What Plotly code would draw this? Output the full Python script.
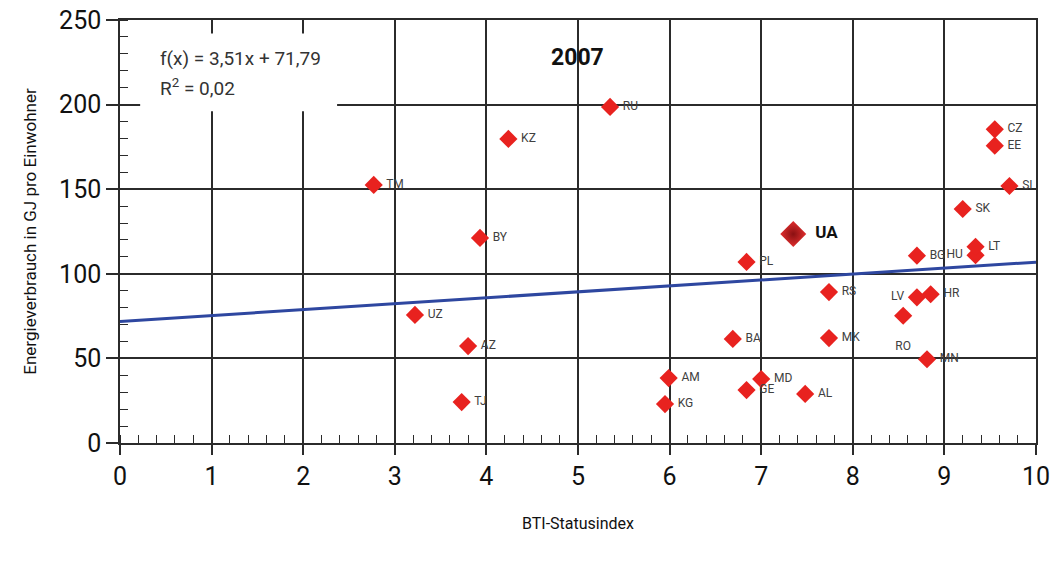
import plotly.graph_objects as go

# BTI status index vs. energy consumption per capita, 2007
countries = ["RU", "KZ", "TM", "BY", "UZ", "AZ", "TJ", "PL", "RS", "BA", "MK",
             "AM", "KG", "GE", "MD", "AL", "BG", "HU", "LT", "CZ", "EE", "SI",
             "SK", "LV", "HR", "RO", "MN"]
bti_index = [5.35, 4.24, 2.77, 3.93, 3.22, 3.80, 3.73, 6.84, 7.74, 6.69, 7.74,
             5.99, 5.95, 6.84, 7.00, 7.48, 8.70, 9.34, 9.34, 9.55, 9.55, 9.71,
             9.20, 8.70, 8.85, 8.55, 8.81]
energy_gj = [198.6, 179.7, 152.5, 121.2, 75.7, 57.3, 24.2, 107.0, 89.2, 61.5, 62.0,
             38.4, 23.0, 31.3, 37.8, 29.0, 110.7, 111.0, 116.0, 185.4, 175.7, 151.9,
             138.3, 86.1, 87.9, 75.2, 49.5]
label_pos = ["middle right"] * len(countries)
label_pos[countries.index("LV")] = "middle left"
label_pos[countries.index("HU")] = "middle left"
label_pos[countries.index("RO")] = "bottom center"
labels = []
for name, pos in zip(countries, label_pos):
    if pos == "middle right":
        labels.append(" " + name)
    elif pos == "middle left":
        labels.append(name + " ")
    else:
        labels.append("<br>" + name)

ua_name = ["UA"]
ua_index = [7.35]
ua_energy = [123.5]

# Linear fit f(x) = 3.51x + 71.79
slope, intercept = 3.51, 71.79
fit_x = [0, 10]
fit_y = [slope * v + intercept for v in fit_x]

font_family = "Roboto, sans-serif"
ink = "#2b2b2b"

fig = go.Figure()

fig.add_trace(go.Scatter(
    x=fit_x, y=fit_y, mode="lines",
    line=dict(color="#2e47a0", width=3),
    hoverinfo="skip", showlegend=False,
))

fig.add_trace(go.Scatter(
    x=bti_index, y=energy_gj, mode="markers+text",
    text=labels, textposition=label_pos,
    textfont=dict(family=font_family, size=12, color="#404040"),
    marker=dict(symbol="diamond", size=14, color="#e8221f", line=dict(width=0)),
    cliponaxis=False, showlegend=False,
))

fig.add_trace(go.Scatter(
    x=ua_index, y=ua_energy, mode="markers+text",
    text=["  <b>" + ua_name[0] + "</b>"], textposition="middle right",
    textfont=dict(family=font_family, size=17, color="#111111"),
    marker=dict(symbol="diamond", size=20, color="#e02e2e",
                gradient=dict(type="radial", color="#8a1012"),
                line=dict(width=0)),
    cliponaxis=False, showlegend=False,
))

# white panel behind the regression equation
fig.add_shape(type="rect", xref="x", yref="y", x0=0.22, x1=2.37, y0=196, y1=242,
              fillcolor="white", line=dict(width=0), layer="between")

eq_font = dict(family=font_family, size=19, color="#333333")
fig.add_annotation(
    xref="x", yref="y", x=0.41, y=227, xanchor="left", yanchor="middle",
    text="f(x) = 3,51x + 71,79", showarrow=False, font=eq_font,
)
fig.add_annotation(
    xref="x", yref="y", x=0.41, y=210, xanchor="left", yanchor="middle",
    text="R<sup>2</sup> = 0,02", showarrow=False, font=eq_font,
)
fig.add_annotation(
    xref="x", yref="y", x=4.99, y=228, text="<b>2007</b>", showarrow=False,
    font=dict(family=font_family, size=23, color="#111111"),
)

axis_common = dict(
    showline=True, linecolor=ink, linewidth=1.5, mirror=True,
    showgrid=True, gridcolor=ink, gridwidth=1.5,
    zeroline=False, ticks="outside", tickcolor=ink, tickwidth=1.5,
    tickfont=dict(family=font_family, size=25, color="#111111"),
    automargin=False, ticklabeloverflow="allow",
)

fig.update_xaxes(
    range=[0, 10], tick0=0, dtick=1, ticklen=10,
    minor=dict(ticks="inside", dtick=0.2, ticklen=8, tickcolor=ink, tickwidth=1.2, showgrid=False),
    title=dict(text="BTI-Statusindex", font=dict(family=font_family, size=16, color="#111111"),
               standoff=28),
    **axis_common,
)
fig.update_yaxes(
    range=[0, 250], tick0=0, dtick=50, ticklen=12,
    minor=dict(ticks="inside", dtick=10, ticklen=8, tickcolor=ink, tickwidth=1.2, showgrid=False),
    title=dict(text="Energieverbrauch in GJ pro Einwohner",
               font=dict(family=font_family, size=17, color="#111111"), standoff=18),
    **axis_common,
)

fig.update_layout(
    width=1051, height=561,
    margin=dict(l=120, r=15, t=20, b=118),
    paper_bgcolor="white", plot_bgcolor="white",
    showlegend=False,
)

fig.write_html("out.html")
